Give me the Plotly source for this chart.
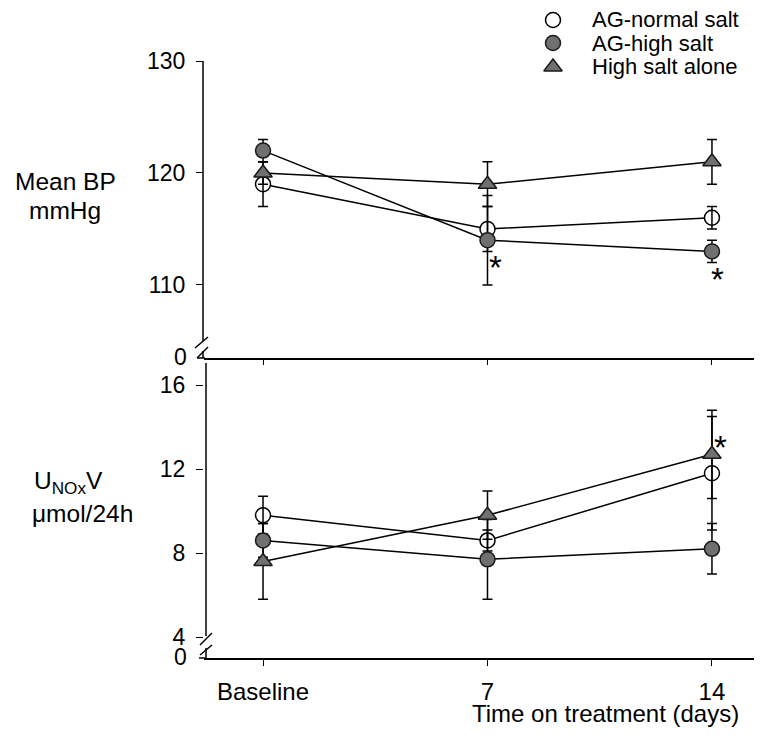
import plotly.graph_objects as go

# ---------------- data ----------------
categories = ["Baseline", "7", "14"]
series_names = ["AG-normal salt", "AG-high salt", "High salt alone"]

bp_normal = [119, 115, 116]
bp_normal_se = [2, 2, 1]
bp_high = [122, 114, 113]
bp_high_se = [1, 4, 1]
bp_alone = [120, 119, 121]
bp_alone_se = [1, 2, 2]

unox_normal = [9.8, 8.6, 11.8]
unox_normal_se = [0.9, 0.5, 2.7]
unox_high = [8.6, 7.7, 8.2]
unox_high_se = [0.8, 1.9, 1.2]
unox_alone = [7.6, 9.8, 12.7]
unox_alone_se = [1.8, 1.15, 2.1]

bp_ticks = [110, 120, 130]
unox_ticks = [4, 8, 12, 16]

# ---------------- layout geometry ----------------
# The page body has an 8px margin, so the figure is drawn 8px in from the
# window's top-left corner; geometry below is given in window pixels.
OFF = 8
WIN_W, WIN_H = 762, 741
W, H = WIN_W - OFF, WIN_H - OFF
PL, PR, PT, PB = 204, 760, 10, 658       # plot area in window pixels
L, T = PL - OFF, PT - OFF
R, B = W - (PR - OFF), H - (PB - OFF)
PW = PR - PL
PH = PB - PT


def px(x):
    return (x - PL) / PW


def py(y):
    return (PB - y) / PH


FONT = "Liberation Sans, Arial, Helvetica, sans-serif"
GRAY = "#707070"
EDGE = "#1a1a1a"

styles = [
    dict(symbol="circle", size=15, color="white", line=dict(color="black", width=1.5)),
    dict(symbol="circle", size=15, color=GRAY, line=dict(color=EDGE, width=1.5)),
    dict(symbol="triangle-up", size=16, color=GRAY, line=dict(color=EDGE, width=1.5)),
]

panels = [
    ("x", "y", [bp_normal, bp_high, bp_alone], [bp_normal_se, bp_high_se, bp_alone_se]),
    ("x2", "y2", [unox_normal, unox_high, unox_alone], [unox_normal_se, unox_high_se, unox_alone_se]),
]

fig = go.Figure()

for xa, ya, vals, ses in panels:
    # connecting lines
    for v in vals:
        fig.add_trace(go.Scatter(x=categories, y=v, xaxis=xa, yaxis=ya, mode="lines",
                                 line=dict(color="black", width=1.5),
                                 showlegend=False, hoverinfo="skip"))
    # open circles (white filled) under error bars
    fig.add_trace(go.Scatter(x=categories, y=vals[0], xaxis=xa, yaxis=ya, mode="markers",
                             marker=styles[0], showlegend=False, name=series_names[0]))
    # error bars
    for v, s in zip(vals, ses):
        fig.add_trace(go.Scatter(x=categories, y=v, xaxis=xa, yaxis=ya, mode="markers",
                                 marker=dict(size=1, color="rgba(0,0,0,0)"),
                                 error_y=dict(type="data", array=s, color="black",
                                              thickness=1.5, width=5),
                                 showlegend=False, hoverinfo="skip"))
    # filled markers on top
    for i in (1, 2):
        fig.add_trace(go.Scatter(x=categories, y=vals[i], xaxis=xa, yaxis=ya, mode="markers",
                                 marker=styles[i], showlegend=False, name=series_names[i]))

# legend markers on a hidden pixel-space axis
leg_y = [20, 43, 67]
leg_marker_x = 553
for i, name in enumerate(series_names):
    fig.add_trace(go.Scatter(x=[leg_marker_x], y=[leg_y[i]], xaxis="x3", yaxis="y3",
                             mode="markers", marker=styles[i], showlegend=False,
                             hoverinfo="skip"))

axis_common = dict(showgrid=False, zeroline=False, color="black", automargin=False)

fig.update_layout(
    template="none",
    width=W, height=H,
    margin=dict(l=L, r=R, t=T, b=B, autoexpand=False),
    paper_bgcolor="white", plot_bgcolor="rgba(0,0,0,0)",
    showlegend=False,
    font=dict(family=FONT, color="black"),
    xaxis=dict(domain=[0, 1], anchor="y", type="category", categoryorder="array",
               categoryarray=categories, range=[-0.263, 2.214],
               showline=True, linecolor="black", linewidth=1.5,
               ticks="outside", ticklen=5, tickwidth=1.2, tickcolor="black",
               showticklabels=False, **axis_common),
    xaxis2=dict(domain=[0, 1], anchor="y2", type="category", categoryorder="array",
                categoryarray=categories, range=[-0.263, 2.214],
                showline=True, linecolor="black", linewidth=1.5,
                ticks="outside", ticklen=6, tickwidth=1.2, tickcolor="black",
                ticklabelstandoff=5,
                tickfont=dict(family=FONT, size=24, color="black"), **axis_common),
    yaxis=dict(domain=[py(358), py(61)], anchor="x", range=[103.48, 130],
               tickvals=bp_ticks, ticks="outside", ticklen=7, tickwidth=1.2,
               tickcolor="black", showline=False, ticklabelstandoff=6,
               tickfont=dict(family=FONT, size=23, color="black"), **axis_common),
    yaxis2=dict(domain=[0, py(363)], anchor="x2", range=[3.0, 17.05],
                tickvals=unox_ticks, ticks="outside", ticklen=7, tickwidth=1.2,
                tickcolor="black", showline=False, ticklabelstandoff=6,
                tickfont=dict(family=FONT, size=23, color="black"), **axis_common),
    xaxis3=dict(domain=[0, 1], anchor="y3", range=[PL, PR], visible=False,
                fixedrange=True, automargin=False),
    yaxis3=dict(domain=[0, 1], anchor="x3", range=[PB, PT], visible=False,
                fixedrange=True, automargin=False),
)

# ---------------- axis lines with breaks ----------------
def seg(x0, y0, x1, y1, w=1.5):
    fig.add_shape(type="line", xref="paper", yref="paper",
                  x0=px(x0), y0=py(y0), x1=px(x1), y1=py(y1),
                  line=dict(color="black", width=w))

# top panel y axis
seg(203, 61, 203, 341)
seg(203, 351, 203, 358)
seg(195, 348, 208, 337)
seg(197, 358, 208, 347)
seg(197, 358, 205, 358)
# bottom panel y axis
seg(206, 363, 206, 636)
seg(206, 648, 206, 658)
seg(200, 645, 212, 633)
seg(200, 655, 212, 645)
seg(199, 658, 205, 658)

# ---------------- text ----------------
def ann(text, x, y, size=22, xanchor="center", yanchor="middle"):
    fig.add_annotation(text=text, xref="paper", yref="paper", x=px(x), y=py(y),
                       xanchor=xanchor, yanchor=yanchor, showarrow=False,
                       font=dict(family=FONT, size=size, color="black"))

# "0" labels at the broken axes
ann("0", 189, 357, size=23, xanchor="right")
ann("0", 189, 657, size=23, xanchor="right")

# y titles
ann("Mean BP", 65, 182, size=24.5)
ann("mmHg", 65, 210, size=24.5)
ann("U<sub>NOx</sub>V", 68, 482, size=24.5)
ann("\u03bcmol/24h", 82, 513, size=24.5)

# x title
ann("Time on treatment (days)", 605, 713, size=24)

# legend texts
for i, name in enumerate(series_names):
    ann(name, 590, leg_y[i], size=22, xanchor="left")

# significance asterisks (x given as category index)
def star(xa, ya, xcat, yval, dx, dy):
    fig.add_annotation(text="*", xref=xa, yref=ya, x=categories.index(xcat), y=yval,
                       xshift=dx, yshift=dy, showarrow=False,
                       font=dict(family=FONT, size=33, color="black"))

star("x", "y", "7", bp_high[1], 8, -27)
star("x", "y", "14", bp_high[2], 6, -28)
star("x2", "y2", "14", unox_alone[2], 9, 7)

fig.write_html("out.html")
